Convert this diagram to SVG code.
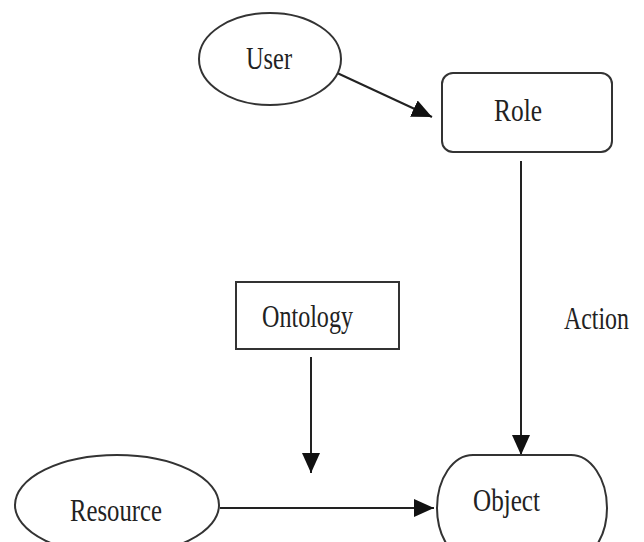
<svg xmlns="http://www.w3.org/2000/svg" width="644" height="542" viewBox="0 0 644 542">
<style>
.shape{fill:#fff;stroke:#333;stroke-width:2}
.lbl{font-family:"Liberation Serif","Times New Roman",serif;font-size:31px;fill:#222}
.conn{stroke:#222;stroke-width:2;fill:none}
</style>
<defs>
<marker id="ah" viewBox="0 0 20 18" refX="20" refY="9" markerWidth="20" markerHeight="18" markerUnits="userSpaceOnUse" orient="auto">
<path d="M0,0 L20,9 L0,18 Z" fill="#111"/>
</marker>
</defs>
<rect width="644" height="542" fill="#fff"/>
<g id="connectors">
<line class="conn" x1="335" y1="72" x2="432" y2="117" marker-end="url(#ah)"/>
<line class="conn" x1="521" y1="161" x2="521" y2="455" marker-end="url(#ah)"/>
<line class="conn" x1="311" y1="357" x2="311" y2="473" marker-end="url(#ah)"/>
<line class="conn" x1="220" y1="508" x2="434" y2="508" marker-end="url(#ah)"/>
<text class="lbl" transform="translate(564,329) scale(0.77,1)" x="0" y="0">Action</text>
</g>
<g id="user">
<ellipse class="shape" cx="270" cy="59" rx="71" ry="46"/>
<text class="lbl" x="246" y="69" textLength="46" lengthAdjust="spacingAndGlyphs">User</text>
</g>
<g id="role">
<rect class="shape" x="442" y="73" width="170" height="79" rx="11"/>
<text class="lbl" x="494" y="121" textLength="48" lengthAdjust="spacingAndGlyphs">Role</text>
</g>
<g id="ontology">
<rect class="shape" x="236" y="282" width="163" height="67"/>
<text class="lbl" x="262" y="327" textLength="91" lengthAdjust="spacingAndGlyphs">Ontology</text>
</g>
<g id="resource">
<ellipse class="shape" cx="117" cy="505" rx="102" ry="50"/>
<text class="lbl" x="70" y="521" textLength="92" lengthAdjust="spacingAndGlyphs">Resource</text>
</g>
<g id="object">
<rect class="shape" x="437" y="455" width="170" height="106" rx="36" ry="53"/>
<text class="lbl" x="473" y="511" textLength="67" lengthAdjust="spacingAndGlyphs">Object</text>
</g>
</svg>
